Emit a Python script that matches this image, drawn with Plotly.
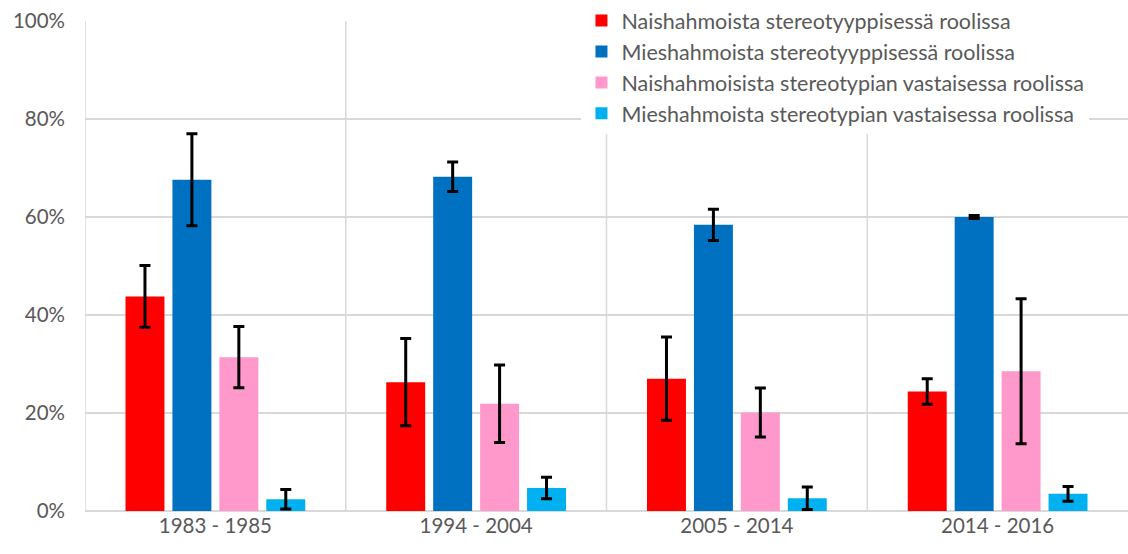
import plotly.graph_objects as go

# Time periods on the x axis
periods = ["1983 - 1985", "1994 - 2004", "2005 - 2014", "2014 - 2016"]

# Y axis ticks
y_ticks = [0, 20, 40, 60, 80, 100]
y_tick_labels = ["0%", "20%", "40%", "60%", "80%", "100%"]

# Share of characters (%) per role type, with error margins (percentage points)
nais_stereo = [43.8, 26.3, 27.0, 24.4]
nais_stereo_err = [6.3, 8.9, 8.5, 2.6]

mies_stereo = [67.6, 68.2, 58.4, 60.0]
mies_stereo_err = [9.4, 3.0, 3.2, 0.3]

nais_vasta = [31.4, 21.9, 20.1, 28.5]
nais_vasta_err = [6.25, 7.9, 5.0, 14.8]

mies_vasta = [2.4, 4.7, 2.6, 3.5]
mies_vasta_err = [2.0, 2.2, 2.3, 1.5]

series = [
    ("Naishahmoista stereotyyppisessä roolissa", nais_stereo, nais_stereo_err, "#FF0000"),
    ("Mieshahmoista stereotyyppisessä roolissa", mies_stereo, mies_stereo_err, "#0070C0"),
    ("Naishahmoisista stereotypian vastaisessa roolissa", nais_vasta, nais_vasta_err, "#FF99CC"),
    ("Mieshahmoista stereotypian vastaisessa roolissa", mies_vasta, mies_vasta_err, "#00B0F0"),
]

FONT = "Lato"
FS = 20.5
LEG_FS = 21.5
GREY = "#595959"
GRID = "#D9D9D9"

fig = go.Figure()
for name, vals, errs, color in series:
    fig.add_trace(go.Bar(
        name=name,
        x=periods,
        y=vals,
        marker=dict(color=color, line=dict(width=0)),
        error_y=dict(type="data", array=errs, visible=True,
                     color="black", thickness=3, width=5.5),
    ))

# Vertical separators between the period groups (and the left edge)
for xv in [-0.5, 0.5, 1.5, 2.5]:
    fig.add_shape(type="line", xref="x", yref="y", x0=xv, x1=xv, y0=0, y1=100,
                  line=dict(color=GRID, width=1.5), layer="below")

fig.update_layout(
    width=1128, height=554,
    margin=dict(l=85, r=0, t=21, b=43),
    paper_bgcolor="white", plot_bgcolor="white",
    barmode="group", bargap=0.28, bargroupgap=0.17,
    font=dict(family=FONT, color=GREY, size=FS),
    legend=dict(
        x=0.476, y=1.043, xanchor="left", yanchor="top",
        bgcolor="white", borderwidth=0,
        font=dict(family=FONT, size=LEG_FS, color=GREY),
        tracegroupgap=0,
    ),
    xaxis=dict(
        type="category", range=[-0.5, 3.5],
        showgrid=False, zeroline=False, showline=False, ticks="",
        tickfont=dict(family=FONT, size=FS, color=GREY),
        fixedrange=True,
    ),
    yaxis=dict(
        range=[0, 100], tickmode="array", tickvals=y_ticks, ticktext=y_tick_labels,
        showgrid=True, gridcolor=GRID, gridwidth=1.5,
        zeroline=True, zerolinecolor=GRID, zerolinewidth=1.5,
        showline=False, ticks="", ticklabelstandoff=19,
        tickfont=dict(family=FONT, size=FS, color=GREY),
    ),
    showlegend=True,
)

fig.write_html("out.html")
